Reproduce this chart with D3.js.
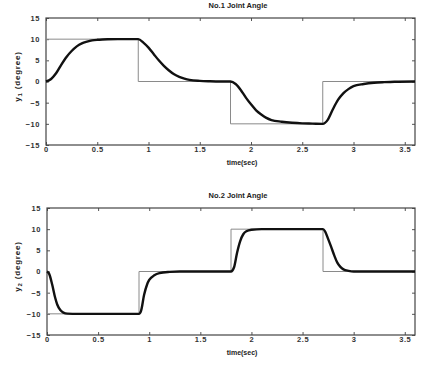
<!DOCTYPE html>
<html>
<head>
<meta charset="utf-8">
<script src="https://cdn.jsdelivr.net/npm/d3@7"></script>
<style>
  body { margin: 0; background: #fff; }
  text { font-family: "Liberation Sans", Arial, sans-serif; }
</style>
</head>
<body>
<div id="chart"></div>
<script>
// reference steps (thin grey)
const ref1T = [0, 0, 0.9, 0.9, 1.8, 1.8, 2.7, 2.7, 3.6];
const ref1V = [0, 10, 10, 0, 0, -10, -10, 0, 0];
const ref2T = [0, 0, 0.9, 0.9, 1.8, 1.8, 2.7, 2.7, 3.6];
const ref2V = [0, -10, -10, 0, 0, 10, 10, 0, 0];

// joint responses (thick black)
const resp1T = [0, 0.05, 0.1, 0.15, 0.2, 0.25, 0.3, 0.35, 0.4, 0.45, 0.5, 0.55, 0.6, 0.7, 0.8, 0.9,
  0.95, 1.0, 1.05, 1.1, 1.15, 1.2, 1.25, 1.3, 1.35, 1.4, 1.5, 1.6, 1.7, 1.8,
  1.85, 1.9, 1.95, 2.0, 2.05, 2.1, 2.15, 2.2, 2.3, 2.4, 2.5, 2.6, 2.7,
  2.75, 2.8, 2.85, 2.9, 2.95, 3.0, 3.1, 3.2, 3.3, 3.4, 3.6];
const resp1V = [0, 0.6, 2.0, 4.0, 5.8, 7.2, 8.3, 9.0, 9.4, 9.7, 9.85, 9.93, 9.97, 10, 10, 10,
  9.2, 8.0, 6.5, 5.0, 3.7, 2.6, 1.7, 1.1, 0.7, 0.4, 0.15, 0.05, 0, 0,
  -0.6, -2.0, -3.8, -5.4, -6.8, -7.8, -8.6, -9.1, -9.5, -9.75, -9.9, -9.95, -10,
  -9.0, -6.5, -4.3, -2.8, -1.8, -1.1, -0.6, -0.3, -0.15, -0.05, 0];

const resp2T = [0, 0.02, 0.05, 0.08, 0.1, 0.13, 0.16, 0.2, 0.3, 0.9,
  0.92, 0.95, 0.98, 1.0, 1.05, 1.1, 1.2, 1.3, 1.8,
  1.83, 1.86, 1.89, 1.92, 1.95, 2.0, 2.1, 2.7,
  2.72, 2.75, 2.78, 2.81, 2.84, 2.87, 2.9, 2.95, 3.0, 3.6];
const resp2V = [0, -0.5, -3.0, -6.2, -7.8, -9.1, -9.7, -9.95, -10, -10,
  -9.3, -5.5, -3.0, -2.0, -0.9, -0.4, -0.1, 0, 0,
  1.0, 4.5, 7.2, 8.8, 9.5, 9.85, 10, 10,
  9.5, 7.7, 5.8, 3.8, 2.1, 1.1, 0.5, 0.15, 0, 0];

const xTicks = [0, 0.5, 1, 1.5, 2, 2.5, 3, 3.5];
const yTicks = [-15, -10, -5, 0, 5, 10, 15];

const width = 422, height = 365;
const svg = d3.select("#chart").append("svg")
  .attr("width", width).attr("height", height);

const panels = [
  { title: "No.1 Joint Angle", sub: "1", top: 18, bottom: 145, left: 46, refT: ref1T, refV: ref1V, rT: resp1T, rV: resp1V },
  { title: "No.2 Joint Angle", sub: "2", top: 208, bottom: 335, left: 47, refT: ref2T, refV: ref2V, rT: resp2T, rV: resp2V },
];

panels.forEach((p) => {
  const right = 415;
  const x = d3.scaleLinear().domain([0, 3.6]).range([p.left, right]);
  const y = d3.scaleLinear().domain([-15, 15]).range([p.bottom, p.top]);
  const g = svg.append("g");

  // inward ticks, all four sides
  const styleAxis = (sel) => {
    sel.select(".domain").remove();
    sel.selectAll("line").attr("stroke", "#555");
    sel.selectAll("text").attr("font-size", 7.5).attr("fill", "#333").attr("font-weight", "bold")
      .attr("letter-spacing", 0.6);
  };
  g.append("g").attr("transform", `translate(0,${p.bottom})`)
    .call(d3.axisBottom(x).tickValues(xTicks).tickSize(-3).tickPadding(2).tickFormat(d3.format("")))
    .call(styleAxis);
  g.append("g").attr("transform", `translate(0,${p.top})`)
    .call(d3.axisTop(x).tickValues(xTicks).tickSize(-3).tickFormat(""))
    .call(styleAxis);
  g.append("g").attr("transform", `translate(${p.left},0)`)
    .call(d3.axisLeft(y).tickValues(yTicks).tickSize(-3).tickPadding(6))
    .call(styleAxis);
  g.append("g").attr("transform", `translate(${right},0)`)
    .call(d3.axisRight(y).tickValues(yTicks).tickSize(-3).tickFormat(""))
    .call(styleAxis);

  g.append("rect")
    .attr("x", p.left).attr("y", p.top)
    .attr("width", right - p.left).attr("height", p.bottom - p.top)
    .attr("fill", "none").attr("stroke", "#444").attr("stroke-width", 1.2);

  const line = d3.line().x((d) => x(d[0])).y((d) => y(d[1]));

  g.append("path")
    .datum(d3.zip(p.refT, p.refV))
    .attr("d", line)
    .attr("fill", "none").attr("stroke", "#8a8a8a").attr("stroke-width", 1);

  g.append("path")
    .datum(d3.zip(p.rT, p.rV))
    .attr("d", line.curve(d3.curveMonotoneX))
    .attr("fill", "none").attr("stroke", "#111").attr("stroke-width", 2.4);

  g.append("text")
    .attr("x", 238).attr("y", p.top - 10)
    .attr("text-anchor", "middle").attr("font-size", 7.5).attr("font-weight", "bold").attr("fill", "#222")
    .text(p.title);

  g.append("text")
    .attr("x", 242).attr("y", p.bottom + 20)
    .attr("text-anchor", "middle").attr("font-size", 7).attr("font-weight", "bold").attr("fill", "#222")
    .text("time(sec)");

  const yl = g.append("text")
    .attr("transform", `translate(20,${(p.top + p.bottom) / 2 - 5}) rotate(-90)`)
    .attr("text-anchor", "middle").attr("font-size", 8).attr("font-weight", "bold").attr("fill", "#222")
    .attr("letter-spacing", 0.8);
  yl.append("tspan").text("y");
  yl.append("tspan").attr("font-size", 6).attr("dy", 2).text(p.sub);
  yl.append("tspan").attr("dy", -2).text("  (degree)");
});
</script>
</body>
</html>
